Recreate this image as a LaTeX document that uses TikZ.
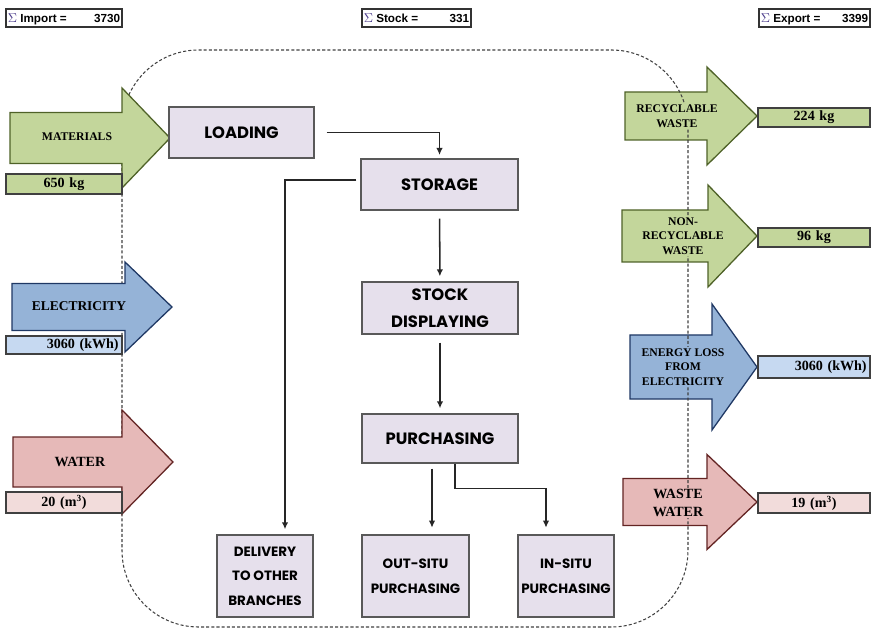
\documentclass[tikz,border=0pt]{standalone}
\usepackage{fontspec}
\setmainfont{Liberation Serif}
\setsansfont{Liberation Sans}
\newfontfamily\procfont{Poppins}
\usetikzlibrary{arrows.meta}

% colours of the flows
\definecolor{matfill}{HTML}{C3D69B}
\definecolor{matline}{HTML}{4F6228}
\definecolor{elefill}{HTML}{95B3D7}
\definecolor{eleline}{HTML}{1F3864}
\definecolor{elelight}{HTML}{C6D9F1}
\definecolor{watfill}{HTML}{E6B9B8}
\definecolor{watline}{HTML}{632423}
\definecolor{watlight}{HTML}{F2DCDB}
\definecolor{procfill}{HTML}{E6E0EC}
\definecolor{procline}{HTML}{595959}
\definecolor{sigcol}{HTML}{4B3C8C}

% big block arrow: style, x left, x neck, x tip, y centre, half shaft, half head
\newcommand{\fatarrow}[7]{%
  \draw[#1] (#2,{#5-#6}) -- (#3,{#5-#6}) -- (#3,{#5-#7}) -- (#4,#5)
    -- (#3,{#5+#7}) -- (#3,{#5+#6}) -- (#2,{#5+#6}) -- cycle;}
\newcommand{\sig}{{\color{sigcol}\fontsize{11pt}{11pt}\selectfont$\Sigma$}}

\tikzset{
  proc/.style={draw=procline, fill=procfill, line width=1.1pt, align=center,
    inner sep=0pt, font={\procfont\bfseries\fontsize{14pt}{23pt}\selectfont}},
  procsmall/.style={proc, font={\procfont\bfseries\fontsize{11.5pt}{21pt}\selectfont}},
  flow/.style={draw=black!85, line width=1.3pt, -{Latex[length=6pt,width=5.5pt]}},
  sumbox/.style={draw=black!80, line width=1.4pt, fill=white, minimum width=#1,
    minimum height=0.54cm, inner sep=0pt},
  sumtext/.style={font={\sffamily\bfseries\fontsize{10pt}{10pt}\selectfont},
    inner sep=2pt, text height=7pt, text depth=1pt, yshift=-0.6pt},
  qty/.style={draw=black!75, line width=1pt, inner xsep=0.1cm, inner ysep=0pt,
    font={\bfseries\fontsize{12pt}{12pt}\selectfont}, align=center},
  flowtext/.style={inner sep=1pt, align=center},
  frame/.style={draw=black!75, line width=0.9pt, dash pattern=on 2.6pt off 1.8pt,
    rounded corners=2.3cm},
}

\begin{document}
\begin{tikzpicture}[x=0.03cm, y=-0.03cm]
  \useasboundingbox (0,0) rectangle (874,629);

  % totals along the top
  \node[sumbox=3.48cm] (import) at (64,18) {};
  \node[sumtext, anchor=west] (importlbl) at (import.west) {\sig\ Import =};
  \node[sumtext, anchor=east] (importval) at (import.east) {3730};
  \node[sumbox=3.27cm] (stock) at (416.5,18) {};
  \node[sumtext, anchor=west] (stocklbl) at (stock.west) {\sig\ Stock =};
  \node[sumtext, anchor=east] (stockval) at (stock.east) {331};
  \node[sumbox=3.33cm] (export) at (814.5,18) {};
  \node[sumtext, anchor=west] (exportlbl) at (export.west) {\sig\ Export =};
  \node[sumtext, anchor=east] (exportval) at (export.east) {3399};

  % outputs (drawn under the boundary)
  \fatarrow{draw=matline, fill=matfill, line width=1.1pt}{625}{707}{757}{116}{24}{49}
  \fatarrow{draw=matline, fill=matfill, line width=1.1pt}{622}{708}{757}{236}{26}{51}
  \fatarrow{draw=eleline, fill=elefill, line width=1.1pt}{630}{712}{757}{367}{32}{63}
  \fatarrow{draw=watline, fill=watfill, line width=1.1pt}{623}{707}{757}{502}{23.5}{47.5}

  % system boundary
  \draw[frame] (122,50) rectangle (688,627);

  % inputs
  \fatarrow{draw=matline, fill=matfill, line width=1.1pt}{10}{122}{170}{138}{25.5}{50}
  \fatarrow{draw=eleline, fill=elefill, line width=1.1pt}{12}{125}{172}{307}{23.5}{45}
  \fatarrow{draw=watline, fill=watfill, line width=1.1pt}{13}{122}{173}{462}{25}{52}

  \node[flowtext, font={\bfseries\fontsize{10pt}{12pt}\selectfont}] (materials) at (77,137) {MATERIALS};
  \node[flowtext, font={\bfseries\fontsize{11.5pt}{12pt}\selectfont}] (electricity) at (79,306) {ELECTRICITY};
  \node[flowtext, font={\bfseries\fontsize{12pt}{12pt}\selectfont}] (water) at (80,462) {WATER};

  \node[flowtext, fill=matfill, font={\bfseries\fontsize{10pt}{12.5pt}\selectfont}] (recyc) at (677,116) {RECYCLABLE\\WASTE};
  \node[flowtext, fill=matfill, font={\bfseries\fontsize{10pt}{12.5pt}\selectfont}] (nonrecyc) at (683,236) {NON-\\RECYCLABLE\\WASTE};
  \node[flowtext, fill=elefill, font={\bfseries\fontsize{10pt}{12.5pt}\selectfont}] (eloss) at (683,367) {ENERGY LOSS\\FROM\\ELECTRICITY};
  \node[flowtext, fill=watfill, font={\bfseries\fontsize{12pt}{16pt}\selectfont}] (wwater) at (678,503) {WASTE\\WATER};

  % quantities
  \node[qty, fill=matfill, text width=3.28cm, minimum height=0.6cm] (matqty) at (64,184) {650 kg};
  \node[qty, fill=elelight, text width=3.28cm, minimum height=0.54cm, align=right] (eleqty) at (64,345) {3060 (kWh)};
  \node[qty, fill=watlight, text width=3.28cm, minimum height=0.63cm] (watqty) at (64,502.5) {20 (m\textsuperscript{3})};
  \node[qty, fill=matfill, text width=3.16cm, minimum height=0.57cm] (recqty) at (814,117.5) {224 kg};
  \node[qty, fill=matfill, text width=3.16cm, minimum height=0.57cm] (nonqty) at (814,237.5) {96 kg};
  \node[qty, fill=elelight, text width=3.16cm, minimum height=0.66cm, align=right] (lossqty) at (814,367) {3060 (kWh)};
  \node[qty, fill=watlight, text width=3.16cm, minimum height=0.6cm] (wwqty) at (814,503) {19 (m\textsuperscript{3})};

  % process steps
  \node[proc, minimum width=4.35cm, minimum height=1.53cm] (loading) at (241.5,132.5) {LOADING};
  \node[proc, minimum width=4.71cm, minimum height=1.53cm] (storage) at (439.5,184.5) {STORAGE};
  \node[proc, minimum width=4.68cm, minimum height=1.56cm] (display) at (440,308) {STOCK\\DISPLAYING};
  \node[proc, minimum width=4.68cm, minimum height=1.47cm] (purch) at (440,438.5) {PURCHASING};
  \node[procsmall, minimum width=2.88cm, minimum height=2.46cm] (delivery) at (265,576) {DELIVERY\\TO OTHER\\BRANCHES};
  \node[procsmall, minimum width=3.21cm, minimum height=2.46cm] (outsitu) at (415.5,576) {OUT-SITU\\PURCHASING};
  \node[procsmall, minimum width=2.88cm, minimum height=2.46cm] (insitu) at (566,576) {IN-SITU\\PURCHASING};

  % material flow between the steps
  \draw[flow, shorten <=0.36cm, shorten >=0.1cm] (loading) -| (storage);
  \draw[flow, shorten <=0.12cm, shorten >=0.15cm]
    ([yshift=0.135cm]storage.west) -| ([xshift=0.6cm]delivery.north);
  \draw[flow, shorten <=0.24cm, shorten >=0.15cm] (storage) -- (display);
  \draw[flow, shorten <=0.24cm, shorten >=0.15cm] (display) -- (purch);
  \draw[flow, shorten <=0.15cm, shorten >=0.2cm]
    ([xshift=-0.24cm]purch.south) -- ([xshift=-0.24cm]purch.south |- outsitu.north);
  \draw[flow, shorten >=0.2cm]
    ([xshift=0.45cm]purch.south) -- ++(0,25) -| ([xshift=-0.6cm]insitu.north);

\end{tikzpicture}
\end{document}
